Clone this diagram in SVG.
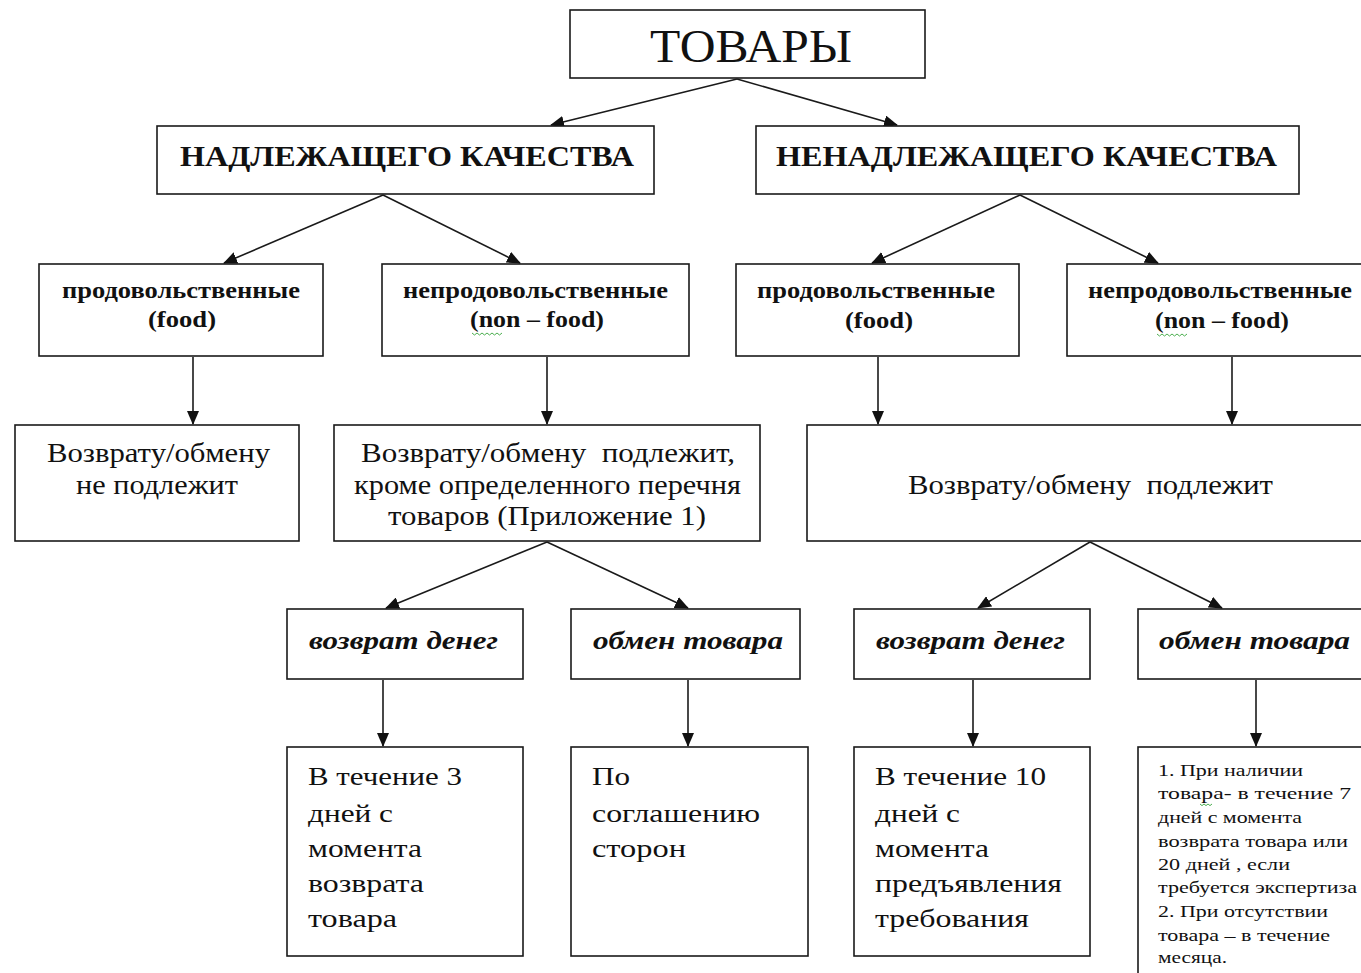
<svg xmlns="http://www.w3.org/2000/svg" width="1361" height="973" viewBox="0 0 1361 973">
<style>
.box{fill:#fff;stroke:#1a1a1a;stroke-width:1.6}
.conn{stroke:#1a1a1a;stroke-width:1.6;fill:none}
.t{font-family:"Liberation Serif","DejaVu Serif",serif;fill:#111;white-space:pre}
.big{font-size:46px}
.hdr{font-size:29px;font-weight:bold}
.cat{font-size:23px;font-weight:bold}
.reg{font-size:28px}
.bi{font-size:25px;font-weight:bold;font-style:italic}
.low{font-size:26px}
.sm{font-size:17px}
.sq{stroke:#4caf50;stroke-width:1;fill:none}
</style>
<defs>
<marker id="ah" markerUnits="userSpaceOnUse" markerWidth="14" markerHeight="12" refX="13" refY="6" orient="auto" viewBox="0 0 14 12">
<path d="M0,0 L14,6 L0,12 z" fill="#111"/>
</marker>
</defs>
<rect width="1361" height="973" fill="#fff"/>

<g id="connectors">
<line class="conn" x1="737" y1="79" x2="551" y2="125" marker-end="url(#ah)"/>
<line class="conn" x1="737" y1="79" x2="897" y2="125" marker-end="url(#ah)"/>
<line class="conn" x1="383" y1="195" x2="224" y2="263" marker-end="url(#ah)"/>
<line class="conn" x1="383" y1="195" x2="520" y2="263" marker-end="url(#ah)"/>
<line class="conn" x1="1020" y1="195" x2="872" y2="263" marker-end="url(#ah)"/>
<line class="conn" x1="1020" y1="195" x2="1158" y2="263" marker-end="url(#ah)"/>
<line class="conn" x1="193" y1="357" x2="193" y2="424" marker-end="url(#ah)"/>
<line class="conn" x1="547" y1="357" x2="547" y2="424" marker-end="url(#ah)"/>
<line class="conn" x1="878" y1="357" x2="878" y2="424" marker-end="url(#ah)"/>
<line class="conn" x1="1232" y1="357" x2="1232" y2="424" marker-end="url(#ah)"/>
<line class="conn" x1="547" y1="542" x2="386" y2="608" marker-end="url(#ah)"/>
<line class="conn" x1="547" y1="542" x2="688" y2="608" marker-end="url(#ah)"/>
<line class="conn" x1="1090" y1="542" x2="978" y2="608" marker-end="url(#ah)"/>
<line class="conn" x1="1090" y1="542" x2="1222" y2="608" marker-end="url(#ah)"/>
<line class="conn" x1="383" y1="680" x2="383" y2="746" marker-end="url(#ah)"/>
<line class="conn" x1="688" y1="680" x2="688" y2="746" marker-end="url(#ah)"/>
<line class="conn" x1="973" y1="680" x2="973" y2="746" marker-end="url(#ah)"/>
<line class="conn" x1="1256" y1="680" x2="1256" y2="746" marker-end="url(#ah)"/>
</g>

<g id="n-tovary">
<rect class="box" x="570" y="10" width="355" height="68"/>
<text class="t big" x="751" y="62" text-anchor="middle" textLength="202" lengthAdjust="spacingAndGlyphs">ТОВАРЫ</text>
</g>

<g id="n-nadl">
<rect class="box" x="157" y="126" width="497" height="68"/>
<text class="t hdr" x="180" y="166" textLength="454" lengthAdjust="spacingAndGlyphs">НАДЛЕЖАЩЕГО КАЧЕСТВА</text>
</g>

<g id="n-nenadl">
<rect class="box" x="756" y="126" width="543" height="68"/>
<text class="t hdr" x="776" y="166" textLength="501" lengthAdjust="spacingAndGlyphs">НЕНАДЛЕЖАЩЕГО КАЧЕСТВА</text>
</g>

<g id="n-food1">
<rect class="box" x="39" y="264" width="284" height="92"/>
<text class="t cat" x="62" y="298" textLength="238" lengthAdjust="spacingAndGlyphs">продовольственные</text>
<text class="t cat" x="148" y="327" textLength="68" lengthAdjust="spacingAndGlyphs">(food)</text>
</g>

<g id="n-nonfood1">
<rect class="box" x="382" y="264" width="307" height="92"/>
<text class="t cat" x="403" y="298" textLength="265" lengthAdjust="spacingAndGlyphs">непродовольственные</text>
<text class="t cat" x="470" y="327" textLength="134" lengthAdjust="spacingAndGlyphs">(non – food)</text>
<path class="sq" d="M472,333 l2.5,2 l2.5,-2 l2.5,2 l2.5,-2 l2.5,2 l2.5,-2 l2.5,2 l2.5,-2 l2.5,2 l2.5,-2 l2.5,2 l2.5,-2"/>
</g>

<g id="n-food2">
<rect class="box" x="736" y="264" width="283" height="92"/>
<text class="t cat" x="757" y="298" textLength="238" lengthAdjust="spacingAndGlyphs">продовольственные</text>
<text class="t cat" x="845" y="328" textLength="68" lengthAdjust="spacingAndGlyphs">(food)</text>
</g>

<g id="n-nonfood2">
<rect class="box" x="1067" y="264" width="310" height="92"/>
<text class="t cat" x="1088" y="298" textLength="264" lengthAdjust="spacingAndGlyphs">непродовольственные</text>
<text class="t cat" x="1155" y="328" textLength="134" lengthAdjust="spacingAndGlyphs">(non – food)</text>
<path class="sq" d="M1157,334 l2.5,2 l2.5,-2 l2.5,2 l2.5,-2 l2.5,2 l2.5,-2 l2.5,2 l2.5,-2 l2.5,2 l2.5,-2 l2.5,2 l2.5,-2"/>
</g>

<g id="n-notreturn">
<rect class="box" x="15" y="425" width="284" height="116"/>
<text class="t reg" x="47" y="462" textLength="223" lengthAdjust="spacingAndGlyphs">Возврату/обмену</text>
<text class="t reg" x="76" y="494" textLength="162" lengthAdjust="spacingAndGlyphs">не подлежит</text>
</g>

<g id="n-return-except">
<rect class="box" x="334" y="425" width="426" height="116"/>
<text class="t reg" x="361" y="462" textLength="374" lengthAdjust="spacingAndGlyphs">Возврату/обмену  подлежит,</text>
<text class="t reg" x="354" y="494" textLength="387" lengthAdjust="spacingAndGlyphs">кроме определенного перечня</text>
<text class="t reg" x="388" y="525" textLength="318" lengthAdjust="spacingAndGlyphs">товаров (Приложение 1)</text>
</g>

<g id="n-return">
<rect class="box" x="807" y="425" width="570" height="116"/>
<text class="t reg" x="908" y="494" textLength="365" lengthAdjust="spacingAndGlyphs">Возврату/обмену  подлежит</text>
</g>

<g id="n-money1">
<rect class="box" x="287" y="609" width="236" height="70"/>
<text class="t bi" x="309" y="649" textLength="189" lengthAdjust="spacingAndGlyphs">возврат денег</text>
</g>

<g id="n-exchange1">
<rect class="box" x="571" y="609" width="229" height="70"/>
<text class="t bi" x="593" y="649" textLength="190" lengthAdjust="spacingAndGlyphs">обмен товара</text>
</g>

<g id="n-money2">
<rect class="box" x="854" y="609" width="236" height="70"/>
<text class="t bi" x="876" y="649" textLength="189" lengthAdjust="spacingAndGlyphs">возврат денег</text>
</g>

<g id="n-exchange2">
<rect class="box" x="1138" y="609" width="240" height="70"/>
<text class="t bi" x="1159" y="649" textLength="191" lengthAdjust="spacingAndGlyphs">обмен товара</text>
</g>

<g id="n-3days">
<rect class="box" x="287" y="747" width="236" height="209"/>
<text class="t low" x="308" y="785" textLength="154" lengthAdjust="spacingAndGlyphs">В течение 3</text>
<text class="t low" x="308" y="822" textLength="85" lengthAdjust="spacingAndGlyphs">дней с</text>
<text class="t low" x="308" y="857" textLength="114" lengthAdjust="spacingAndGlyphs">момента</text>
<text class="t low" x="308" y="892" textLength="116" lengthAdjust="spacingAndGlyphs">возврата</text>
<text class="t low" x="308" y="927" textLength="89" lengthAdjust="spacingAndGlyphs">товара</text>
</g>

<g id="n-agreement">
<rect class="box" x="571" y="747" width="237" height="209"/>
<text class="t low" x="592" y="785" textLength="38" lengthAdjust="spacingAndGlyphs">По</text>
<text class="t low" x="592" y="822" textLength="168" lengthAdjust="spacingAndGlyphs">соглашению</text>
<text class="t low" x="592" y="857" textLength="94" lengthAdjust="spacingAndGlyphs">сторон</text>
</g>

<g id="n-10days">
<rect class="box" x="854" y="747" width="236" height="209"/>
<text class="t low" x="875" y="785" textLength="171" lengthAdjust="spacingAndGlyphs">В течение 10</text>
<text class="t low" x="875" y="822" textLength="85" lengthAdjust="spacingAndGlyphs">дней с</text>
<text class="t low" x="875" y="857" textLength="114" lengthAdjust="spacingAndGlyphs">момента</text>
<text class="t low" x="875" y="892" textLength="187" lengthAdjust="spacingAndGlyphs">предъявления</text>
<text class="t low" x="875" y="927" textLength="154" lengthAdjust="spacingAndGlyphs">требования</text>
</g>

<g id="n-terms">
<rect class="box" x="1138" y="747" width="240" height="240"/>
<text class="t sm" x="1158" y="776" textLength="145" lengthAdjust="spacingAndGlyphs">1. При наличии</text>
<text class="t sm" x="1158" y="799" textLength="193" lengthAdjust="spacingAndGlyphs">товара- в течение 7</text>
<path class="sq" d="M1200,804 l2,1.6 l2,-1.6 l2,1.6 l2,-1.6 l2,1.6 l2,-1.6"/>
<text class="t sm" x="1158" y="823" textLength="144" lengthAdjust="spacingAndGlyphs">дней с момента</text>
<text class="t sm" x="1158" y="847" textLength="190" lengthAdjust="spacingAndGlyphs">возврата товара или</text>
<text class="t sm" x="1158" y="870" textLength="132" lengthAdjust="spacingAndGlyphs">20 дней , если</text>
<text class="t sm" x="1158" y="893" textLength="199" lengthAdjust="spacingAndGlyphs">требуется экспертиза</text>
<text class="t sm" x="1158" y="917" textLength="170" lengthAdjust="spacingAndGlyphs">2. При отсутствии</text>
<text class="t sm" x="1158" y="941" textLength="172" lengthAdjust="spacingAndGlyphs">товара – в течение</text>
<text class="t sm" x="1158" y="963" textLength="69" lengthAdjust="spacingAndGlyphs">месяца.</text>
</g>
</svg>
